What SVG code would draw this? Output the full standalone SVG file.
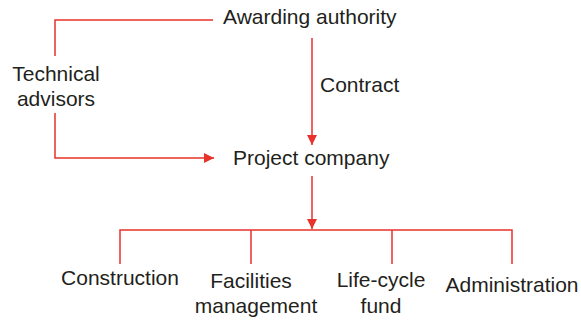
<svg xmlns="http://www.w3.org/2000/svg" width="581" height="321" viewBox="0 0 581 321">
<style>
text{font-family:"Liberation Sans",Arial,sans-serif;font-size:21px;fill:#231f20}
.c{fill:none;stroke:#e8322b;stroke-width:1.5}
</style>
<defs>
<marker id="ah" viewBox="0 0 10 10" refX="10" refY="5" markerWidth="10" markerHeight="10" markerUnits="userSpaceOnUse" orient="auto">
<path d="M0,0 L10,5 L0,10 Z" fill="#e8322b"/>
</marker>
</defs>
<rect width="581" height="321" fill="#fff"/>
<g id="connectors">
<path class="c" d="M213,20 H55 V56"/>
<path class="c" d="M55,113 V158 H214" marker-end="url(#ah)"/>
<path class="c" d="M312,38 V145" marker-end="url(#ah)"/>
<path class="c" d="M312,176 V229" marker-end="url(#ah)"/>
<path class="c" d="M120,264 V230 H512 V264 M251,230 V264 M392,230 V264"/>
</g>
<g id="awarding"><text x="223" y="24">Awarding authority</text></g>
<g id="technical"><text x="56" y="81" text-anchor="middle">Technical</text><text x="56" y="106" text-anchor="middle">advisors</text></g>
<g id="contract"><text x="320" y="92">Contract</text></g>
<g id="project"><text x="233" y="165">Project company</text></g>
<g id="construction"><text x="120" y="285" text-anchor="middle">Construction</text></g>
<g id="facilities"><text x="251" y="288" text-anchor="middle">Facilities</text><text x="256" y="313" text-anchor="middle">management</text></g>
<g id="lifecycle"><text x="381" y="287" text-anchor="middle">Life-cycle</text><text x="381" y="313" text-anchor="middle">fund</text></g>
<g id="administration"><text x="512" y="292" text-anchor="middle">Administration</text></g>
</svg>
